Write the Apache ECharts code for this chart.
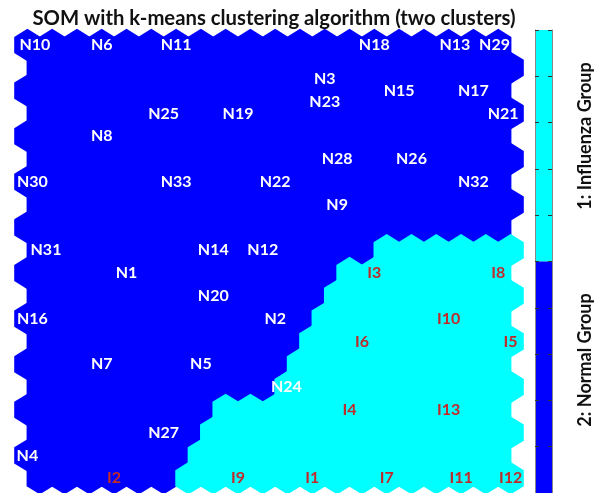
<!DOCTYPE html>
<html>
<head>
<meta charset="utf-8">
<script src="https://cdn.jsdelivr.net/npm/echarts@6/dist/echarts.min.js"></script>
<style>
  html, body { margin: 0; padding: 0; background: #fff; }
</style>
</head>
<body>
<div id="main" style="width: 600px; height: 493px"></div>
<script type="text/javascript">
// cluster of every SOM hex (row 0 = top), 1 = influenza, 2 = normal
var clusterMap = [
  '22222222222222222222',
  '22222222222222222222',
  '22222222222222222222',
  '22222222222222222222',
  '22222222222222222222',
  '22222222222222222222',
  '22222222222222222222',
  '22222222222222222222',
  '22222222222222222222',
  '22222222222222111111',
  '22222222222221111111',
  '22222222222211111111',
  '22222222222211111111',
  '22222222222111111111',
  '22222222222111111111',
  '22222222221111111111',
  '22222222111111111111',
  '22222221111111111111',
  '22222221111111111111',
  '22222211111111111111'
];

// sample labels: [x in hex columns, row, name]
var normalLabels = [
  [0.3, 0, 'N10'], [3, 0, 'N6'], [6, 0, 'N11'], [14, 0, 'N18'], [17.25, 0, 'N13'], [18.85, 0, 'N29'],
  [12, 1.5, 'N3'], [12, 2.5, 'N23'], [15, 2, 'N15'], [18, 2, 'N17'],
  [5.5, 3, 'N25'], [8.5, 3, 'N19'], [19.2, 3, 'N21'],
  [3, 4, 'N8'], [12.5, 5, 'N28'], [15.5, 5, 'N26'],
  [0.2, 6, 'N30'], [6, 6, 'N33'], [10, 6, 'N22'], [18, 6, 'N32'],
  [12.5, 7, 'N9'],
  [0.75, 9, 'N31'], [7.5, 9, 'N14'], [9.5, 9, 'N12'],
  [4, 10, 'N1'], [7.5, 11, 'N20'],
  [0.2, 12, 'N16'], [10, 12, 'N2'],
  [3, 14, 'N7'], [7, 14, 'N5'], [10.45, 15, 'N24'],
  [5.5, 17, 'N27'], [0, 18, 'N4']
];
var fluLabels = [
  [14, 10, 'I3'], [19, 10, 'I8'], [17, 12, 'I10'],
  [13.5, 13, 'I6'], [19.5, 13, 'I5'],
  [13, 16, 'I4'], [17, 16, 'I13'],
  [3.5, 19, 'I2'], [8.5, 19, 'I9'], [11.5, 19, 'I1'], [14.5, 19, 'I7'], [17.5, 19, 'I11'], [19.5, 19, 'I12']
];

var clusterNames = ['1: Influenza Group', '2: Normal Group'];
var clusterColors = { 1: '#00ffff', 2: '#0000ff' };

var hexData = [];
clusterMap.forEach(function (line, r) {
  for (var c = 0; c < line.length; c++) {
    hexData.push([c + (r % 2) * 0.5, r, +line[c]]);
  }
});

var myChart = echarts.init(document.getElementById('main'));

function renderHex(params, api) {
  var p = api.coord([api.value(0), api.value(1)]);
  var hw = api.size([1, 0])[0] / 2;
  var R = api.size([0, 1])[1] / 1.5;
  var col = clusterColors[api.value(2)];
  return {
    type: 'polygon',
    shape: {
      points: [
        [p[0], p[1] - R], [p[0] + hw, p[1] - R / 2], [p[0] + hw, p[1] + R / 2],
        [p[0], p[1] + R], [p[0] - hw, p[1] + R / 2], [p[0] - hw, p[1] - R / 2]
      ]
    },
    style: { fill: col, stroke: col, lineWidth: 1.6, lineJoin: 'miter' }
  };
}

function renderBar(params, api) {
  var a = api.coord([0, api.value(0)]);
  var b = api.coord([1, api.value(1)]);
  return {
    type: 'rect',
    shape: { x: a[0], y: a[1], width: b[0] - a[0], height: b[1] - a[1] },
    style: { fill: clusterColors[api.value(2)] }
  };
}

var labelFont = { fontFamily: 'Lato', fontWeight: 'bold', fontSize: 16 };

var cbAxis = {
  type: 'value', gridIndex: 1, min: 1, max: 2, interval: 0.1, inverse: true, z: 10,
  axisLine: { show: true, lineStyle: { color: '#888', width: 1 } },
  axisTick: { show: true, inside: true, length: 4, lineStyle: { color: '#333' } },
  axisLabel: { show: false }, splitLine: { show: false }
};

myChart.setOption({
  animation: false,
  title: {
    text: 'SOM with k-means clustering algorithm (two clusters)',
    left: 269, top: 3, textAlign: 'center',
    textStyle: { fontFamily: 'Lato', fontWeight: 'bold', fontSize: 20.3, color: '#111' }
  },
  grid: [
    { left: 15, width: 508, top: 33.6, height: 456 },
    { left: 535, width: 17, top: 30, height: 466 }
  ],
  xAxis: [
    { type: 'value', gridIndex: 0, min: -0.5, max: 20, show: false },
    { type: 'value', gridIndex: 1, min: 0, max: 1, show: false }
  ],
  yAxis: [
    { type: 'value', gridIndex: 0, min: -0.5, max: 19.5, inverse: true, show: false },
    cbAxis,
    Object.assign({}, cbAxis, { position: 'right' })
  ],
  series: [
    {
      type: 'custom', xAxisIndex: 0, yAxisIndex: 0,
      renderItem: renderHex, data: hexData, silent: true
    },
    {
      type: 'scatter', xAxisIndex: 0, yAxisIndex: 0, symbolSize: 0, data: normalLabels, z: 5,
      itemStyle: { opacity: 1 },
      label: Object.assign({ show: true, position: 'inside', color: '#ffffff',
        formatter: function (p) { return p.data[2]; } }, labelFont)
    },
    {
      type: 'scatter', xAxisIndex: 0, yAxisIndex: 0, symbolSize: 0, data: fluLabels, z: 5,
      itemStyle: { opacity: 1 },
      label: Object.assign({ show: true, position: 'inside', color: '#c02a2a',
        formatter: function (p) { return p.data[2]; } }, labelFont)
    },
    {
      type: 'custom', xAxisIndex: 1, yAxisIndex: 1, z: 1,
      renderItem: renderBar,
      data: [[1, 1.5, 1], [1.5, 2, 2]]
    }
  ],
  graphic: [
    {
      type: 'text', x: 585, y: 136, rotation: Math.PI / 2,
      style: { text: clusterNames[0], align: 'center', verticalAlign: 'middle',
        fontFamily: 'Lato', fontWeight: 'bold', fontSize: 18, fill: '#111' }
    },
    {
      type: 'text', x: 585, y: 360, rotation: Math.PI / 2,
      style: { text: clusterNames[1], align: 'center', verticalAlign: 'middle',
        fontFamily: 'Lato', fontWeight: 'bold', fontSize: 18, fill: '#111' }
    }
  ]
});
</script>
</body>
</html>
